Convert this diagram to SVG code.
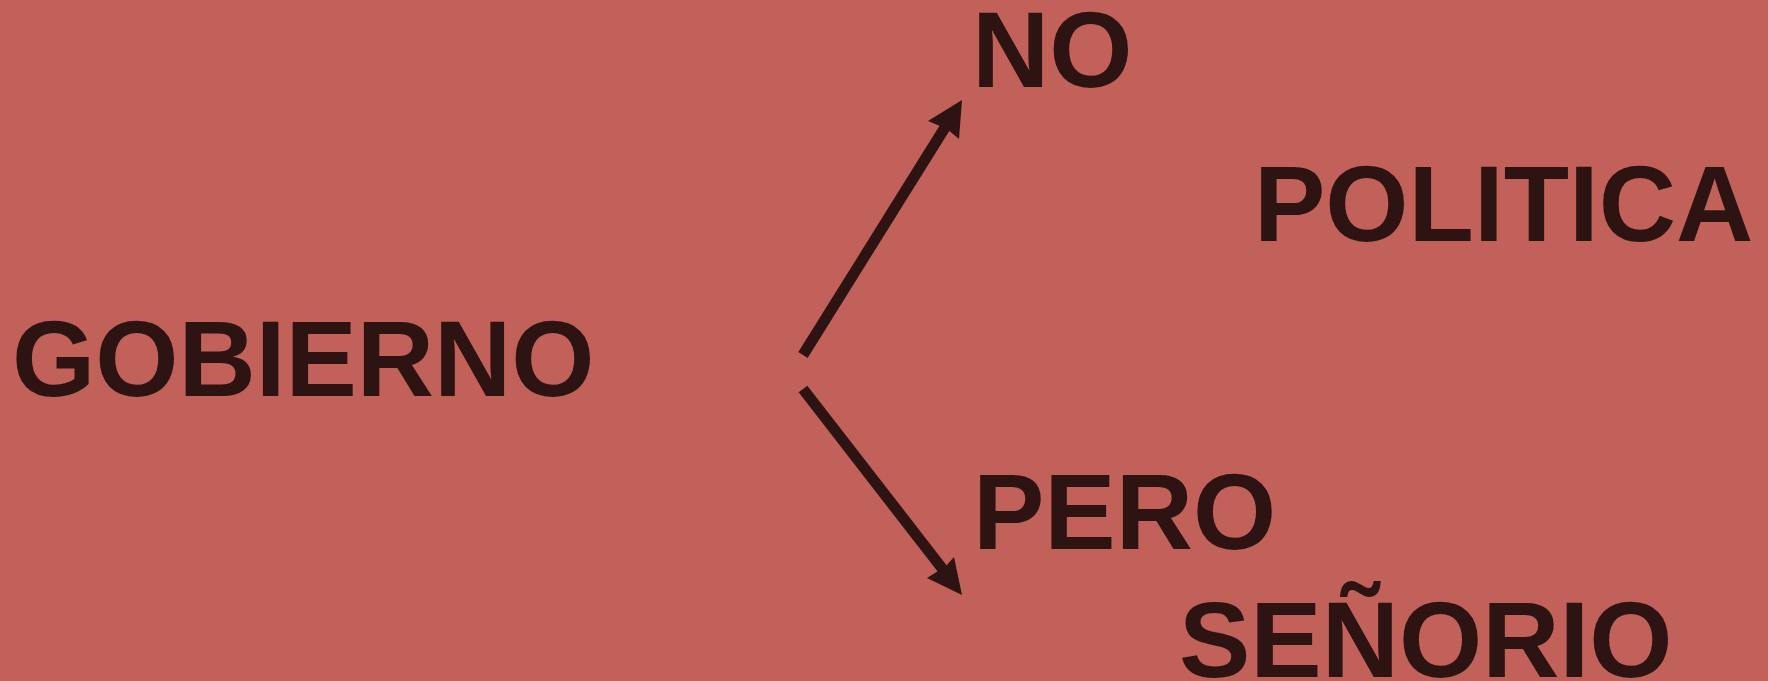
<svg xmlns="http://www.w3.org/2000/svg" width="1768" height="681" viewBox="0 0 1768 681">
<style>
.t{font-family:"Liberation Sans",Arial,sans-serif;font-weight:bold;font-size:107px;fill:#2D1412}
.c{stroke:#2D1412;stroke-width:11;fill:none}
.h{fill:#2D1412}
</style>
<rect width="1768" height="681" fill="#C2605A"/>
<g id="gobierno"><text class="t" x="12" y="396">GOBIERNO</text></g>
<g id="no"><text class="t" x="972" y="87">NO</text></g>
<g id="politica"><text class="t" x="1254" y="241">POLITICA</text></g>
<g id="pero"><text class="t" x="973" y="549">PERO</text></g>
<g id="senorio"><text class="t" x="1179" y="677">SEÑORIO</text></g>
<g id="connectors">
<line class="c" x1="803" y1="355" x2="949" y2="121"/>
<polygon class="h" points="962,100 959,139 947,129 928,121"/>
<line class="c" x1="803" y1="389" x2="948" y2="576"/>
<polygon class="h" points="962,595 927,578 946,566 954,557"/>
</g>
</svg>
